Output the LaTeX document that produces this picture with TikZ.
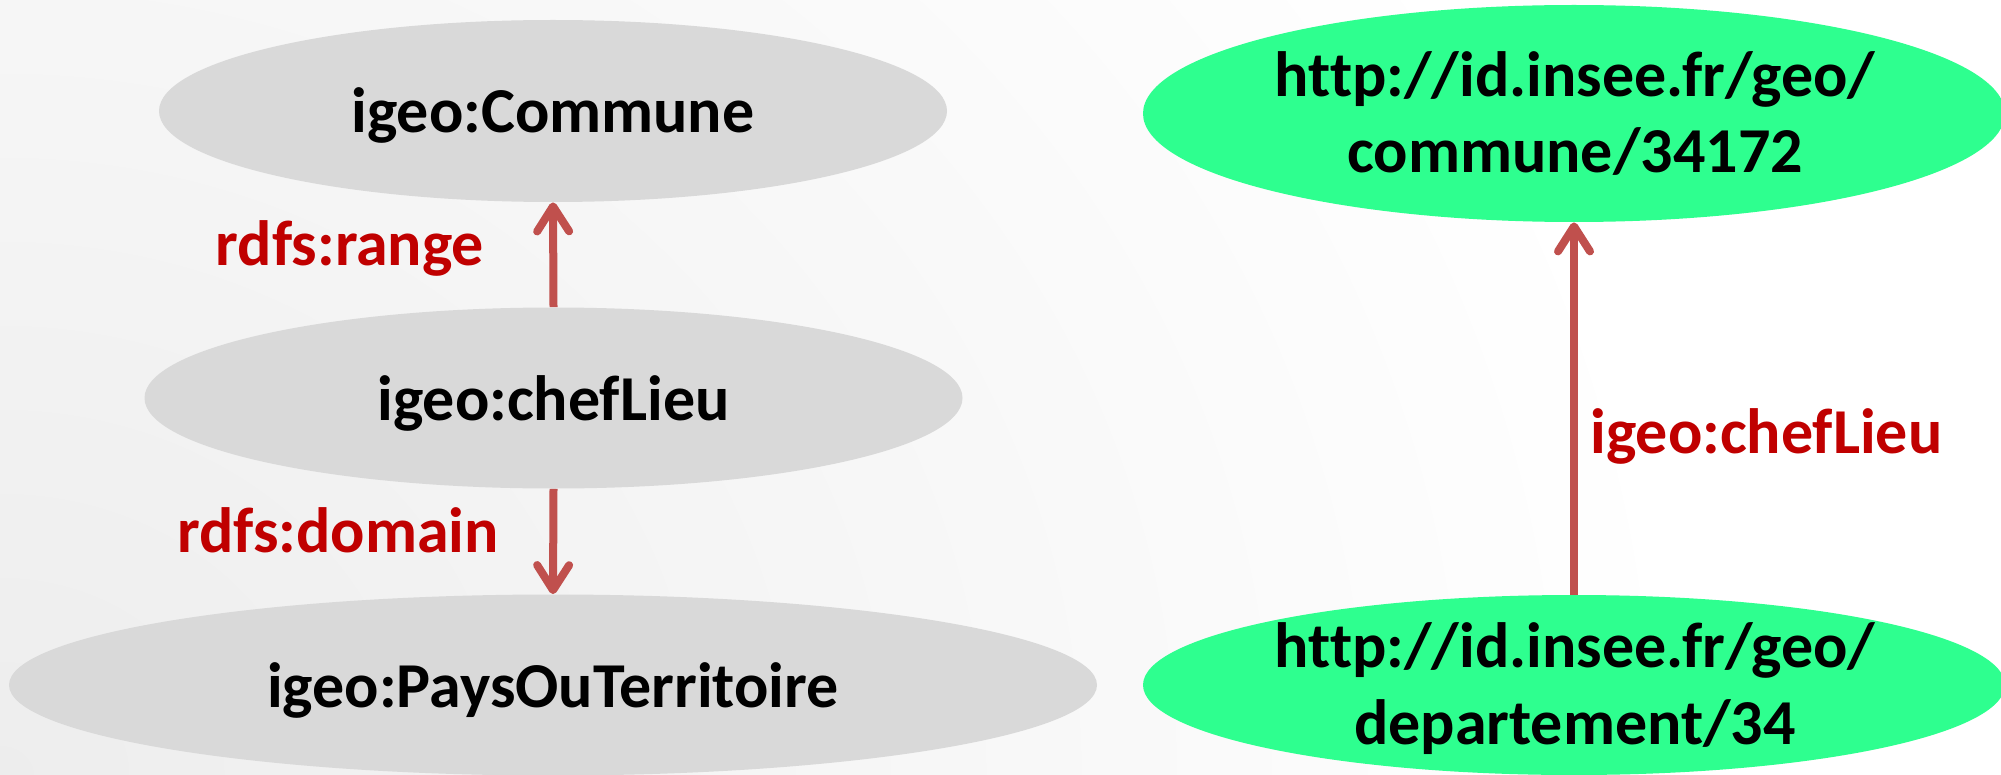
\documentclass[tikz,border=0pt]{standalone}
\usepackage{fontspec}
\setmainfont{Carlito}[Ligatures={NoCommon}]
\usetikzlibrary{shapes.geometric,arrows.meta}
\definecolor{ellgrey}{HTML}{D9D9D9}
\definecolor{ellgreen}{HTML}{2EFF8F}
\definecolor{lblred}{HTML}{C00000}
\definecolor{arrred}{HTML}{C0504D}
\tikzset{
  big/.style={font=\fontsize{32}{38.5}\selectfont\bfseries},
  greyell/.style={ellipse, fill=ellgrey, inner sep=0pt, big, text height=22pt, text depth=0pt},
  greenell/.style={ellipse, fill=ellgreen, inner sep=0pt},
  txt/.style={big, inner sep=0pt, anchor=base},
  lbl/.style={big, text=lblred, inner sep=0pt, anchor=base},
  arr/.style={draw=arrred, line width=4pt, -{Straight Barb[length=12.5pt,width=16pt,round]}},
}
\begin{document}
\begin{tikzpicture}[x=0.5pt, y=-0.5pt]
\useasboundingbox (0,0) rectangle (2001,775);
\clip (0,0) rectangle (2001,775);
\fill[white] (0,0) rectangle (2001,775);
\shade[inner color=black!7, outer color=white] (0,775) ellipse [x radius=1700, y radius=1500];
% left: schema
\node[greyell, minimum width=394pt, minimum height=91pt] (A) at (553,111) {igeo:Commune};
\node[greyell, minimum width=409pt, minimum height=90.5pt] (B) at (553.5,398) {igeo:chefLieu};
\node[greyell, minimum width=544pt, minimum height=90.5pt] (C) at (553,685) {igeo:PaysOuTerritoire};
\draw[arr] (B.north) -- (A.south);
\draw[arr] (B.south) -- (C.north);
\node[lbl] (lr) at (350,265) {rdfs:range};
\node[lbl] (ld) at (338,552) {rdfs:domain};
% right: instances
\node[greenell, minimum width=431pt, minimum height=108.5pt] (D) at (1574,113.5) {};
\node[greenell, minimum width=431pt, minimum height=90pt] (E) at (1574,685) {};
\node[txt] (d1) at (1575,97) {http://id.insee.fr/geo/};
\node[txt] (d2) at (1575,173) {commune/34172};
\node[txt] (e1) at (1575,667) {http://id.insee.fr/geo/};
\node[txt] (e2) at (1575,744) {departement/34};
\draw[arr] (E.north) -- (D.south);
\node[lbl, anchor=base west] (lc) at (1590,453) {igeo:chefLieu};
\end{tikzpicture}
\end{document}
